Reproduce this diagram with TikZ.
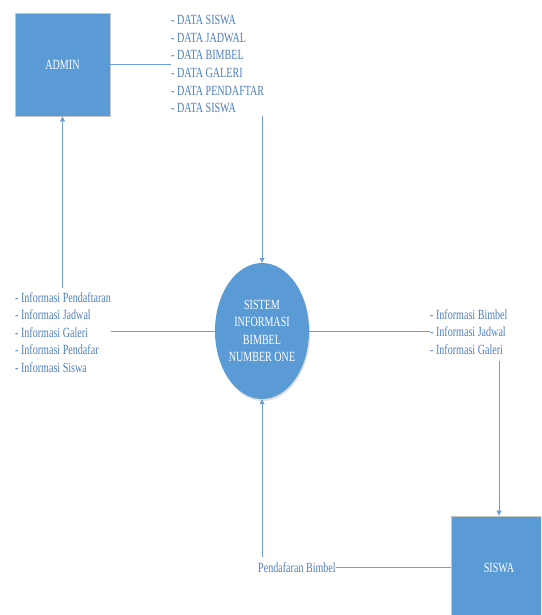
\documentclass[tikz,border=0pt]{standalone}
\usepackage{fontspec}
\setmainfont[FakeStretch=0.72]{Liberation Serif}
\usetikzlibrary{arrows.meta,shapes.geometric,shadows}
\definecolor{boxblue}{HTML}{5B9BD5}
\definecolor{lineblue}{HTML}{6A9FD8}
\definecolor{txtblue}{HTML}{4F7FBE}
\tikzset{
  entity/.style={rectangle, fill=boxblue, draw=gray!45, line width=0.9pt, minimum width=95pt, minimum height=103pt, text=white, font=\fontsize{14}{17.6}\selectfont, inner sep=0},
  process/.style={ellipse, fill=boxblue, minimum width=94pt, minimum height=136pt, inner sep=0, text=white, align=center, font=\fontsize{14}{17.4}\selectfont, drop shadow={opacity=0.25, shadow xshift=1pt, shadow yshift=-2pt}},
  lbl/.style={text=txtblue, align=left, inner sep=0, font=\fontsize{14}{17.6}\selectfont},
  flow/.style={draw=lineblue, line width=0.8pt},
  arr/.style={flow, -{Triangle[length=5pt,width=5pt]}}
}
\begin{document}
\begin{tikzpicture}[x=1pt,y=-1pt]
\clip (0,0) rectangle (541,615);
\useasboundingbox (0,0) rectangle (541,615);
\fill[white] (0,0) rectangle (541,615);
\node[entity] (admin) at (62.5,64.5) {ADMIN};
\node[entity] (siswa) at (499,567.5) {SISWA};
\node[process] (sistem) at (262,331) {SISTEM\\INFORMASI\\BIMBEL\\NUMBER ONE};
\node[lbl, anchor=north west] (data) at (171,15.3) {- DATA SISWA\\- DATA JADWAL\\- DATA BIMBEL\\- DATA GALERI\\- DATA PENDAFTAR\\- DATA SISWA};
\node[lbl, anchor=north west] (infol) at (15,292) {- Informasi Pendaftaran\\- Informasi Jadwal\\- Informasi Galeri\\- Informasi Pendafar\\- Informasi Siswa};
\node[lbl, anchor=north west] (infor) at (430,309) {- Informasi Bimbel\\- Informasi Jadwal\\- Informasi Galeri};
\node[lbl, anchor=west] (pend) at (258,567.5) {Pendafaran Bimbel};
\draw[flow] (admin.east) -- (admin.east -| data.west);
\draw[arr] (sistem.north |- data.south) ++(0,3) -- (sistem.north);
\draw[flow] (sistem.west) -- (sistem.west -| infol.east);
\draw[arr] (admin.south |- infol.north) ++(0,-4) -- (admin.south);
\draw[flow] (sistem.east) -- (sistem.east -| infor.west);
\draw[arr] (siswa.north |- infor.south) ++(0,6) -- (siswa.north);
\draw[flow] (siswa.west) -- (pend.east);
\draw[arr] (sistem.south |- pend.north) ++(0,-5) -- (sistem.south);
\end{tikzpicture}
\end{document}
